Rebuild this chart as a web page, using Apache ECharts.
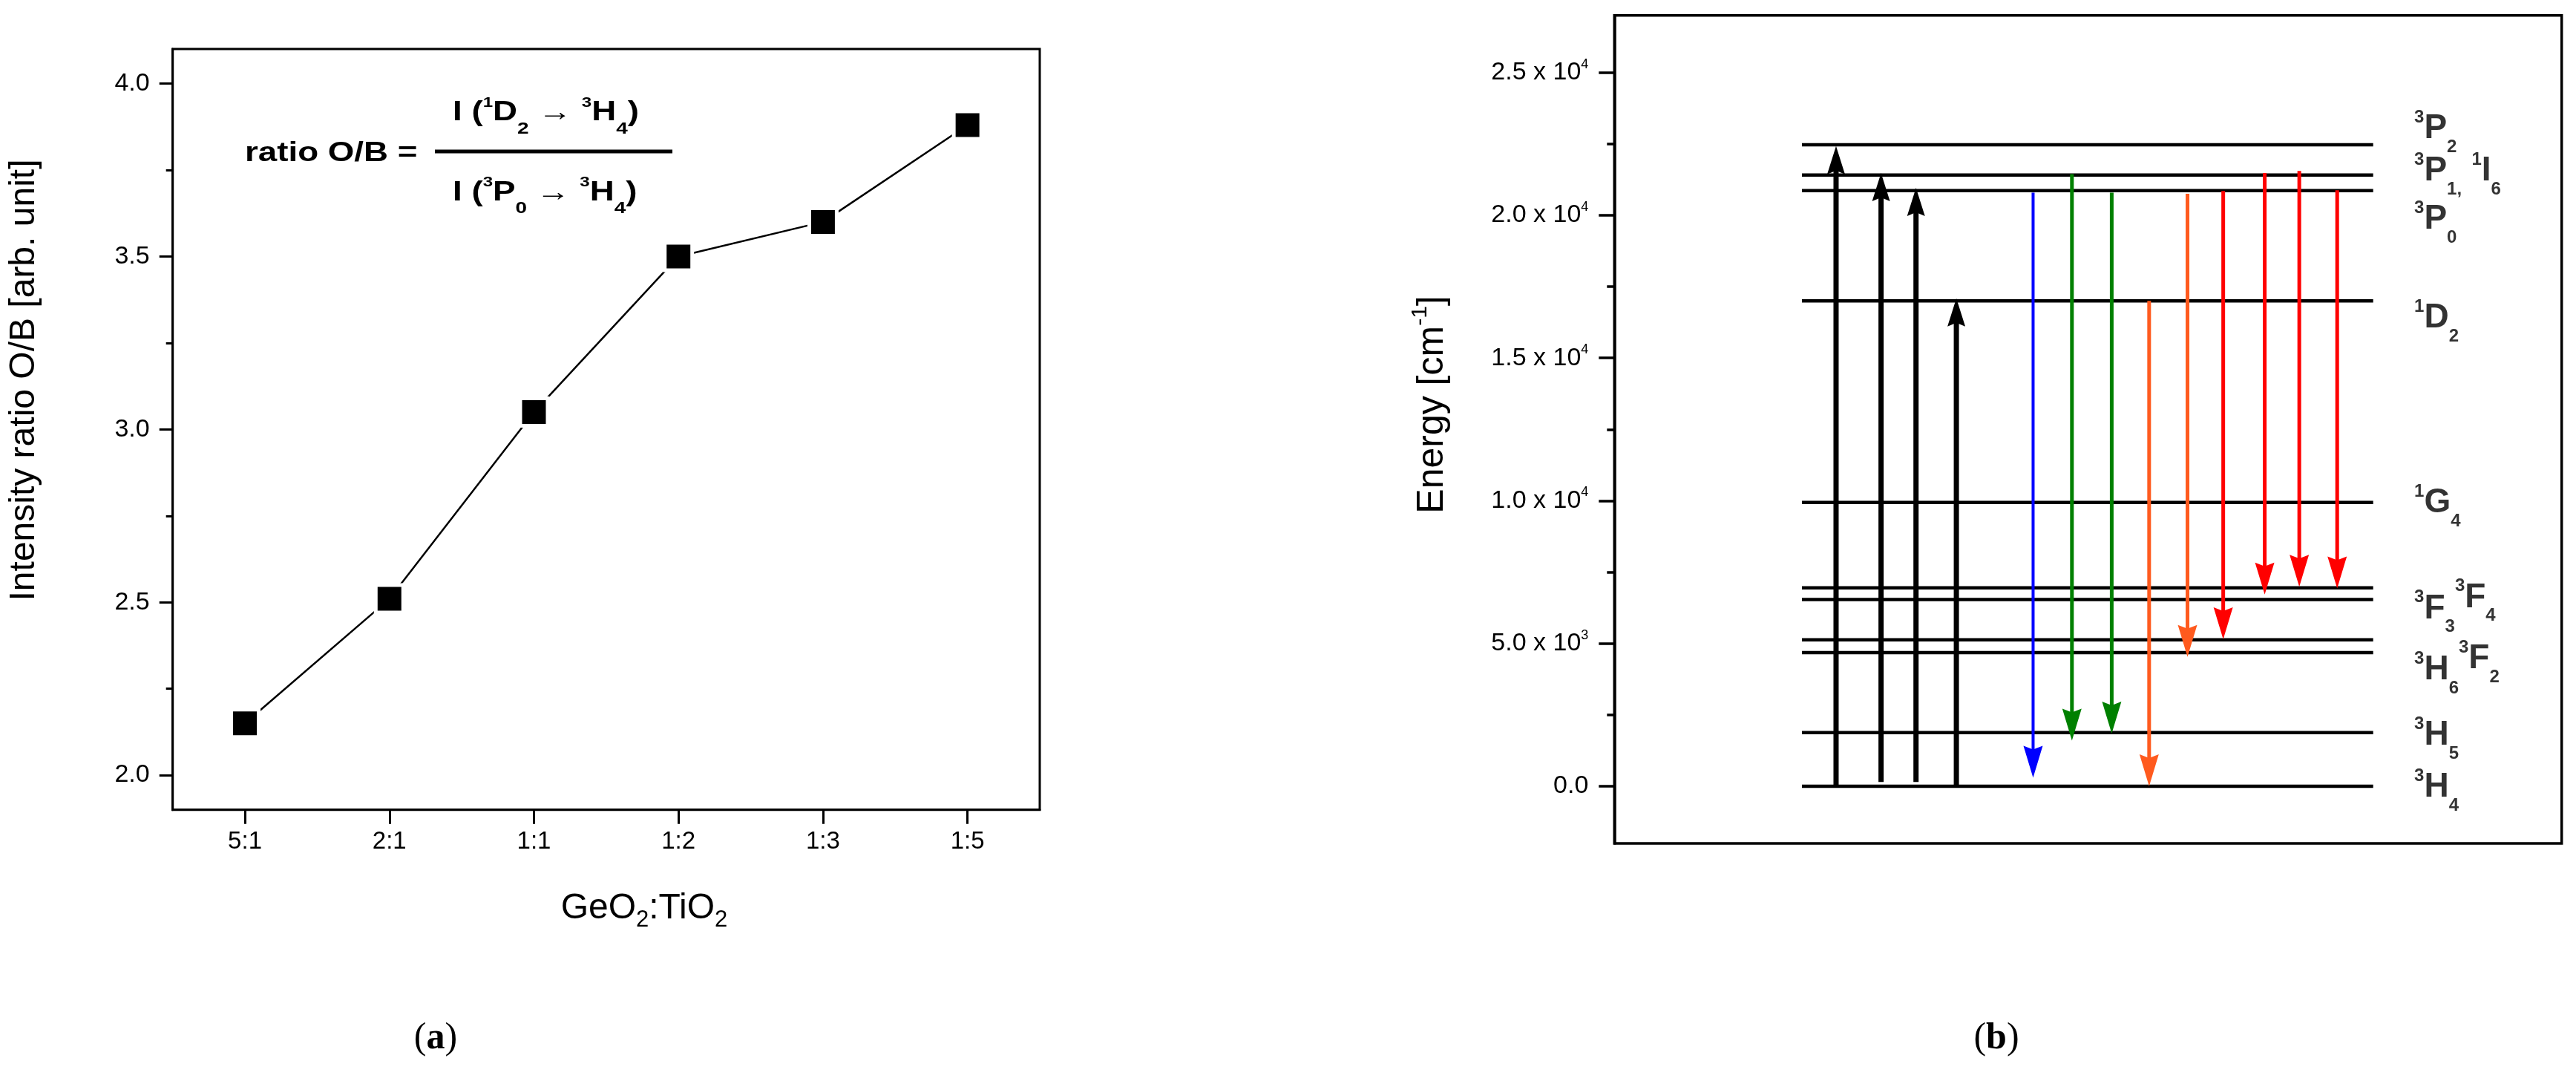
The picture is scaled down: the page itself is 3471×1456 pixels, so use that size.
<!DOCTYPE html>
<html>
<head>
<meta charset="utf-8">
<script src="https://cdn.jsdelivr.net/npm/echarts@6/dist/echarts.min.js"></script>
<style>
html,body{margin:0;padding:0;background:#fff;}
#chart{width:3471px;height:1456px;}
</style>
</head>
<body>
<div id="chart"></div>
<script>
// ---------- Panel (a): intensity ratio ----------
const ratioCategories = ['5:1', '2:1', '1:1', '1:2', '1:3', '1:5'];
const ratioValues = [2.15, 2.51, 3.05, 3.50, 3.60, 3.88];
const ratioMajorTicks = [2.0, 2.5, 3.0, 3.5, 4.0];
const ratioMinorTicks = [2.25, 2.75, 3.25, 3.75];

// ---------- Panel (b): energy level diagram ----------
const levelNames = ['3H4', '3H5', '3H6', '3F2', '3F3', '3F4', '1G4', '1D2', '3P0', '3P1/1I6', '3P2'];
const levelEnergies = [0, 1880, 4680, 5130, 6540, 6950, 9940, 17000, 20860, 21410, 22470];
// transitions: horizontal slot (arbitrary diagram units), start and end energies [cm-1]
const transitionSlots = [23.4, 28.15, 31.84, 36.1, 44.2, 48.3, 52.5, 56.45, 60.5, 64.27, 68.65, 72.3, 76.3];
const transitionFrom = [0, 150, 150, 0, 20790, 21440, 20790, 17000, 20750, 20850, 21480, 21550, 20875];
const transitionTo = [22420, 21480, 20960, 17090, 300, 1600, 1850, 0, 4530, 5150, 6720, 6990, 6930];
const energyMajorTicks = [0, 5000, 10000, 15000, 20000, 25000];
const energyMinorTicks = [2500, 7500, 12500, 17500, 22500];
const energyTickLabels = ['0.0', '5.0 x 10|3', '1.0 x 10|4', '1.5 x 10|4', '2.0 x 10|4', '2.5 x 10|4'];
const levelLabelTexts = [
  '{sp|3}{m|H}{sb|4}',
  '{sp|3}{m|H}{sb|5}',
  '{sp|3}{m|H}{sb|6}{sp2|3}{m2|F}{sb2|2}',
  '{sp|3}{m|F}{sb|3}{sp2|3}{m2|F}{sb2|4}',
  '{sp|1}{m|G}{sb|4}',
  '{sp|1}{m|D}{sb|2}',
  '{sp|3}{m|P}{sb|0}',
  '{sp|3}{m|P}{sb|1,  }{sp|1}{m|I}{sb|6}',
  '{sp|3}{m|P}{sb|2}'
];

// ---------- layout / style (not data) ----------
const FONT = 'Liberation Sans';
const LEVEL_X_START = 19.8, LEVEL_X_END = 80.1, LABEL_X = 84.4;
const levelLabelAnchors = [-40, 1780, 4070, 6220, 9930, 16400, 19850, 21550, 23040];
const transitionColors = ['#000', '#000', '#000', '#000', '#0000ff', '#008000', '#008000',
  '#ff5a1e', '#ff5a1e', '#ff0000', '#ff0000', '#ff0000', '#ff0000'];

const chart = echarts.init(document.getElementById('chart'), null, {renderer: 'canvas'});

function tok(size, weight, pad) {
  const o = {fontSize: size, fontWeight: weight, fontFamily: FONT, color: '#000'};
  if (pad) o.padding = pad;
  return o;
}

const levelRich = {
  m: tok(46, 'bold'),
  sp: tok(24, 'bold', [0, 0, 30, 0]),
  sb: tok(24, 'bold', [50, 0, 0, 0]),
  m2: tok(46, 'bold', [0, 0, 30, 0]),
  sp2: tok(24, 'bold', [0, 0, 60, 0]),
  sb2: tok(24, 'bold', [20, 0, 0, 0])
};

const formulaRich = {
  m: tok(36, 'bold'),
  sp: tok(19, 'bold', [0, 0, 28, 0]),
  sb: tok(22, 'bold', [42, 0, 0, 0])
};

const option = {
  backgroundColor: '#fff',
  animation: false,
  grid: [
    {left: 232.7, top: 66, width: 1168.3, height: 1024.7, show: true, borderColor: '#000', borderWidth: 3, containLabel: false, outerBoundsMode: 'none'},
    {left: 2175.3, top: 20.7, width: 1276.4, height: 1115.3, show: true, borderColor: '#000', borderWidth: 3.5, containLabel: false, outerBoundsMode: 'none'}
  ],
  xAxis: [
    {
      gridIndex: 0, type: 'category', data: ratioCategories, boundaryGap: true,
      axisLine: {show: true, lineStyle: {color: '#000', width: 3}},
      axisTick: {show: true, alignWithLabel: true, inside: false, length: 19, lineStyle: {color: '#000', width: 3}},
      axisLabel: {fontSize: 33, fontFamily: FONT, color: '#000', margin: 27},
      splitLine: {show: false}
    },
    {gridIndex: 1, type: 'value', min: 0, max: 100, show: false}
  ],
  yAxis: [
    {
      gridIndex: 0, type: 'value', min: 1.9, max: 4.1, position: 'left',
      axisLine: {show: true, lineStyle: {color: '#000', width: 3}},
      axisTick: {show: true, length: 18, customValues: ratioMajorTicks, lineStyle: {color: '#000', width: 3}},
      axisLabel: {customValues: ratioMajorTicks, formatter: v => Number(v).toFixed(1), fontSize: 34, fontFamily: FONT, color: '#000', margin: 31},
      splitLine: {show: false}
    },
    {
      gridIndex: 0, type: 'value', min: 1.9, max: 4.1, position: 'left',
      axisLine: {show: false},
      axisTick: {show: true, length: 9, customValues: ratioMinorTicks, lineStyle: {color: '#000', width: 3}},
      axisLabel: {show: false},
      splitLine: {show: false}
    },
    {
      gridIndex: 1, type: 'value', min: -2000, max: 27000, position: 'left',
      axisLine: {show: true, lineStyle: {color: '#000', width: 3.5}},
      axisTick: {show: true, length: 21, customValues: energyMajorTicks, lineStyle: {color: '#000', width: 3.5}},
      axisLabel: {
        customValues: energyMajorTicks, margin: 35,
        formatter: function (v) {
          const i = energyMajorTicks.indexOf(Math.round(v));
          const s = energyTickLabels[i] || '';
          const parts = s.split('|');
          return parts.length > 1 ? '{n|' + parts[0] + '}{e|' + parts[1] + '}' : '{n|' + s + '}';
        },
        rich: {
          n: {fontSize: 34, fontFamily: FONT, color: '#000'},
          e: {fontSize: 18, fontFamily: FONT, color: '#000', padding: [0, 0, 22, 0]}
        }
      },
      splitLine: {show: false}
    },
    {
      gridIndex: 1, type: 'value', min: -2000, max: 27000, position: 'left',
      axisLine: {show: false},
      axisTick: {show: true, length: 10, customValues: energyMinorTicks, lineStyle: {color: '#000', width: 3.5}},
      axisLabel: {show: false},
      splitLine: {show: false}
    }
  ],
  series: [
    {
      type: 'line', xAxisIndex: 0, yAxisIndex: 0, data: ratioValues,
      symbol: 'rect', symbolSize: 37, showSymbol: true,
      itemStyle: {color: '#000', borderColor: '#fff', borderWidth: 5},
      lineStyle: {color: '#000', width: 2.5},
      emphasis: {disabled: true}, silent: true, z: 5
    },
    {
      type: 'custom', xAxisIndex: 1, yAxisIndex: 2, silent: true, clip: false, z: 2,
      data: levelEnergies.map(e => [LEVEL_X_START, e]),
      renderItem: function (params, api) {
        const e = api.value(1);
        const a = api.coord([LEVEL_X_START, e]);
        const b = api.coord([LEVEL_X_END, e]);
        return {type: 'line', shape: {x1: a[0], y1: a[1], x2: b[0], y2: b[1]}, style: {stroke: '#000', lineWidth: 4.5}};
      }
    },
    {
      type: 'custom', xAxisIndex: 1, yAxisIndex: 2, silent: true, clip: false, z: 3,
      data: transitionSlots.map((x, i) => [x, transitionFrom[i], transitionTo[i]]),
      renderItem: function (params, api) {
        const i = params.dataIndex;
        const x = api.value(0);
        const p0 = api.coord([x, api.value(1)]);
        const p1 = api.coord([x, api.value(2)]);
        const dir = p1[1] < p0[1] ? -1 : 1;
        const black = i < 4;
        const headLen = black ? 38 : 43;
        const headHalf = black ? 12 : 13;
        const lw = black ? 7 : (i === 4 ? 4 : 5);
        const color = transitionColors[i];
        const baseY = p1[1] - dir * headLen;
        return {
          type: 'group',
          children: [
            {type: 'line', shape: {x1: p0[0], y1: p0[1], x2: p1[0], y2: baseY + dir * 10}, style: {stroke: color, lineWidth: lw}},
            {type: 'polygon', shape: {points: [[p1[0], p1[1]], [p1[0] - headHalf, baseY], [p1[0], baseY + dir * 5], [p1[0] + headHalf, baseY]]}, style: {fill: color}}
          ]
        };
      }
    },
    {
      type: 'scatter', xAxisIndex: 1, yAxisIndex: 2, silent: true, z: 4,
      symbolSize: 1, itemStyle: {color: 'rgba(0,0,0,0)'},
      data: levelLabelAnchors.map(e => [LABEL_X, e]),
      label: {
        show: true, position: 'right', distance: 0,
        formatter: p => levelLabelTexts[p.dataIndex],
        rich: levelRich
      }
    }
  ],
  graphic: [
    // formula
    {type: 'text', x: 330, y: 207, scaleX: 1.27, silent: true,
      style: {text: 'ratio O/B =', fontSize: 36, fontWeight: 'bold', fontFamily: FONT, fill: '#000', align: 'left', verticalAlign: 'middle'}},
    {type: 'line', silent: true, shape: {x1: 586, y1: 204, x2: 906, y2: 204}, style: {stroke: '#000', lineWidth: 5}},
    {type: 'text', x: 610, y: 152.5, scaleX: 1.27, silent: true,
      style: {text: '{m|I (}{sp|1}{m|D}{sb|2}{m| \u2192 }{sp|3}{m|H}{sb|4}{m|)}', rich: formulaRich, align: 'left', verticalAlign: 'middle'}},
    {type: 'text', x: 610, y: 260, scaleX: 1.27, silent: true,
      style: {text: '{m|I (}{sp|3}{m|P}{sb|0}{m| \u2192 }{sp|3}{m|H}{sb|4}{m|)}', rich: formulaRich, align: 'left', verticalAlign: 'middle'}},
    // axis titles
    {type: 'text', x: 33, y: 512, rotation: Math.PI / 2, silent: true,
      style: {text: 'Intensity ratio O/B [arb. unit]', fontSize: 48, fontFamily: FONT, fill: '#000', align: 'center', verticalAlign: 'middle'}},
    {type: 'text', x: 868, y: 1224, silent: true,
      style: {text: '{m|GeO}{s|2}{m|:TiO}{s|2}', align: 'center', verticalAlign: 'middle',
        rich: {m: tok(48, 'normal'), s: tok(31, 'normal', [30, 0, 0, 0])}}},
    {type: 'text', x: 1930, y: 545, rotation: Math.PI / 2, silent: true,
      style: {text: '{m|Energy [cm}{s|-1}{m|]}', align: 'center', verticalAlign: 'middle',
        rich: {m: tok(50, 'normal'), s: tok(30, 'normal', [0, 0, 32, 0])}}},
    // panel captions
    {type: 'text', x: 587, y: 1399, silent: true,
      style: {text: '{r|(}{b|a}{r|)}', align: 'center', verticalAlign: 'middle',
        rich: {r: {fontSize: 50, fontFamily: 'Liberation Serif', color: '#000'}, b: {fontSize: 50, fontWeight: 'bold', fontFamily: 'Liberation Serif', color: '#000'}}}},
    {type: 'text', x: 2690, y: 1399, silent: true,
      style: {text: '{r|(}{b|b}{r|)}', align: 'center', verticalAlign: 'middle',
        rich: {r: {fontSize: 50, fontFamily: 'Liberation Serif', color: '#000'}, b: {fontSize: 50, fontWeight: 'bold', fontFamily: 'Liberation Serif', color: '#000'}}}}
  ]
};

chart.setOption(option);
</script>
</body>
</html>
